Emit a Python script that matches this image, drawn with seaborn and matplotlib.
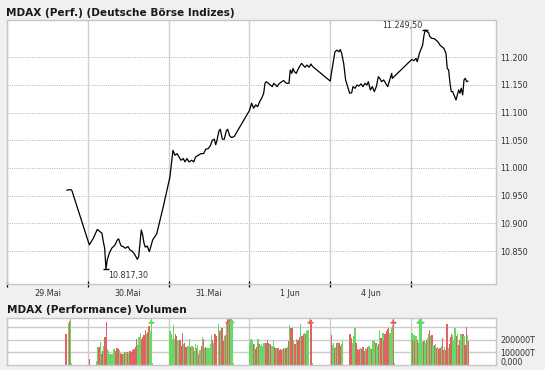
import matplotlib
matplotlib.use("Agg")
import matplotlib.pyplot as plt
import matplotlib.transforms as mtransforms
import seaborn as sns

sns.set_style("white")
plt.rcParams["font.family"] = ["DejaVu Sans"]

# ---------------- data ----------------
title_main = "MDAX (Perf.) (Deutsche Börse Indizes)"
title_vol = "MDAX (Performance) Volumen"
day_labels = ["29.Mai", "30.Mai", "31.Mai", "1 Jun", "4 Jun"]
price_ticks = [10850, 10900, 10950, 11000, 11050, 11100, 11150, 11200]
volume_ticks = [0, 100, 200]          # in 1000 T
volume_grid = [100, 200, 300]

# time in trading-day units (0 = 29.Mai, 1 = 30.Mai, ...)
line_time = [
    0.739, 0.788, 0.804,
    1.019, 1.068, 1.118, 1.151, 1.176, 1.192, 1.209, 1.225, 1.241, 1.266, 1.296, 1.337,
    1.365, 1.382, 1.399, 1.415, 1.439, 1.464, 1.498, 1.522, 1.556, 1.584, 1.613, 1.630,
    1.662, 1.679, 1.696, 1.712, 1.736, 1.761, 1.778, 1.803, 1.853, 1.934, 2.017,
    2.054, 2.079, 2.104, 2.129, 2.153, 2.182, 2.203, 2.228, 2.252, 2.286, 2.311, 2.335,
    2.368, 2.401, 2.434, 2.459, 2.491, 2.516, 2.541, 2.566, 2.583, 2.599, 2.624, 2.640,
    2.665, 2.689, 2.714, 2.731, 2.756, 2.781, 2.813,
    3.001, 3.028, 3.053, 3.078, 3.103, 3.127, 3.152, 3.177, 3.193, 3.209, 3.234, 3.259,
    3.283, 3.301, 3.325, 3.342, 3.366, 3.400, 3.425, 3.449, 3.465, 3.490, 3.506, 3.524,
    3.540, 3.556, 3.580, 3.598, 3.623, 3.647, 3.663, 3.688, 3.713, 3.738, 3.762, 3.778,
    4.001, 4.016, 4.035, 4.059, 4.084, 4.109, 4.125, 4.142, 4.167, 4.191, 4.216, 4.241,
    4.266, 4.282, 4.307, 4.332, 4.356, 4.381, 4.406, 4.431, 4.455, 4.472, 4.497, 4.521,
    4.546, 4.571, 4.596, 4.613, 4.637, 4.662, 4.687, 4.712, 4.736, 4.761, 4.769,
    5.009, 5.037, 5.062, 5.078, 5.103, 5.127, 5.144, 5.161, 5.177, 5.202, 5.219, 5.235,
    5.260, 5.285, 5.309, 5.334, 5.359, 5.384, 5.408, 5.433, 5.449, 5.466, 5.483, 5.499,
    5.516, 5.532, 5.557, 5.573, 5.590, 5.606, 5.622, 5.640, 5.656, 5.672, 5.689, 5.705,
]
mdax = [
    10960, 10961, 10959,
    10861, 10873, 10889, 10885, 10882, 10867, 10855, 10817.3, 10834, 10846, 10855, 10861,
    10870, 10872, 10864, 10859, 10858, 10855, 10858, 10852, 10849, 10843, 10835, 10840,
    10888, 10879, 10864, 10857, 10859, 10849, 10857, 10870, 10881, 10930, 10984,
    11032, 11023, 11026, 11020, 11014, 11017, 11011, 11017, 11011, 11014, 11011, 11020,
    11023, 11026, 11026, 11034, 11035, 11040, 11050, 11052, 11042, 11050, 11067, 11070,
    11052, 11052, 11067, 11070, 11058, 11055, 11057,
    11104, 11117, 11108, 11114, 11111, 11120, 11126, 11135, 11153, 11156, 11153, 11150,
    11147, 11153, 11150, 11147, 11152, 11156, 11158, 11154, 11153, 11153, 11177, 11171,
    11180, 11174, 11171, 11177, 11184, 11189, 11186, 11182, 11186, 11182, 11188, 11184,
    11157, 11172, 11189, 11210, 11213, 11210, 11214, 11207, 11189, 11159, 11147, 11135,
    11136, 11147, 11144, 11150, 11148, 11152, 11147, 11153, 11150, 11156, 11141, 11147,
    11138, 11147, 11165, 11162, 11156, 11159, 11153, 11147, 11159, 11171, 11162,
    11196, 11194, 11198, 11192, 11207, 11216, 11222, 11240, 11249.5, 11246, 11244, 11237,
    11234, 11234, 11231, 11228, 11222, 11219, 11216, 11207, 11180, 11177, 11153, 11138,
    11138, 11132, 11123, 11132, 11141, 11135, 11144, 11132, 11159, 11162, 11156, 11157,
]
high_label, low_label = "11.249,50", "10.817,30"

vol_time = [
    0.730, 0.759, 0.771, 0.784, 0.796,
    1.019, 1.110, 1.122, 1.139, 1.155, 1.167, 1.180, 1.196, 1.213, 1.229,
    1.242, 1.258, 1.275, 1.291, 1.308, 1.324, 1.341, 1.361, 1.378, 1.390,
    1.407, 1.423, 1.440, 1.456, 1.473, 1.489, 1.506, 1.522, 1.539, 1.555,
    1.572, 1.588, 1.601, 1.617, 1.634, 1.650, 1.667, 1.683, 1.696, 1.712,
    1.724, 1.741, 1.757, 1.770, 1.786, 1.799,
    2.017, 2.030, 2.042, 2.059, 2.071, 2.083, 2.100, 2.112, 2.125, 2.141,
    2.153, 2.170, 2.182, 2.199, 2.211, 2.224, 2.240, 2.257, 2.269, 2.281,
    2.294, 2.306, 2.323, 2.335, 2.347, 2.360, 2.376, 2.389, 2.405, 2.417,
    2.430, 2.446, 2.459, 2.475, 2.488, 2.504, 2.516, 2.529, 2.541, 2.558,
    2.574, 2.587, 2.616, 2.632, 2.649, 2.661, 2.677, 2.694, 2.706, 2.719,
    2.731, 2.744, 2.756, 2.772, 2.789, 2.801,
    3.007, 3.020, 3.032, 3.049, 3.061, 3.078, 3.090, 3.106, 3.119, 3.131,
    3.148, 3.160, 3.177, 3.189, 3.205, 3.222, 3.234, 3.251, 3.263, 3.280,
    3.296, 3.309, 3.325, 3.342, 3.354, 3.366, 3.383, 3.395, 3.412, 3.424,
    3.441, 3.453, 3.469, 3.482, 3.498, 3.515, 3.527, 3.544, 3.556, 3.568,
    3.585, 3.601, 3.618, 3.634, 3.651, 3.668, 3.680, 3.696, 3.709, 3.725,
    3.754, 3.771, 3.783,
    4.014, 4.026, 4.039, 4.051, 4.063, 4.080, 4.092, 4.109, 4.121, 4.138,
    4.150, 4.245, 4.262, 4.274, 4.290, 4.307, 4.319, 4.336, 4.348, 4.365,
    4.377, 4.394, 4.406, 4.418, 4.435, 4.451, 4.464, 4.480, 4.493, 4.509,
    4.522, 4.538, 4.550, 4.567, 4.579, 4.596, 4.608, 4.625, 4.637, 4.653,
    4.666, 4.678, 4.695, 4.707, 4.724, 4.740, 4.757, 4.769, 4.781, 4.794,
    5.012, 5.025, 5.037, 5.050, 5.062, 5.078, 5.091, 5.103, 5.115, 5.128,
    5.144, 5.161, 5.173, 5.190, 5.202, 5.214, 5.231, 5.243, 5.260, 5.272,
    5.289, 5.301, 5.318, 5.330, 5.347, 5.359, 5.376, 5.388, 5.404, 5.417,
    5.433, 5.446, 5.462, 5.475, 5.491, 5.503, 5.516, 5.532, 5.545, 5.561,
    5.573, 5.590, 5.602, 5.619, 5.631, 5.644, 5.656, 5.668, 5.685, 5.697,
    5.710,
]
# volume in 1000 T
vol_value = [
    246, 336, 355, 368, 16,
    43, 30, 138, 143, 184, 84, 111, 146, 224, 346,
    124, 111, 84, 89, 89, 124, 111, 130, 124, 115,
    95, 84, 89, 105, 105, 105, 95, 111, 105, 115,
    124, 138, 203, 157, 224, 252, 203, 224, 240, 279,
    246, 260, 314, 273, 420, 16,
    271, 244, 203, 317, 203, 244, 230, 195, 190, 195,
    154, 252, 163, 176, 141, 141, 149, 203, 141, 149,
    154, 141, 108, 168, 136, 157, 87, 114, 149, 222,
    203, 136, 141, 136, 130, 130, 163, 238, 195, 176,
    244, 230, 325, 271, 276, 298, 190, 230, 238, 347,
    420, 358, 420, 420, 358, 14,
    176, 203, 195, 163, 163, 122, 141, 203, 163, 149,
    163, 149, 176, 176, 176, 195, 176, 163, 163, 149,
    195, 141, 130, 136, 130, 114, 122, 114, 122, 136,
    122, 136, 141, 190, 317, 293, 298, 195, 168, 163,
    203, 195, 222, 325, 230, 244, 257, 249, 271, 276,
    420, 358, 14,
    238, 157, 176, 136, 141, 176, 182, 176, 149, 163,
    190, 244, 211, 176, 230, 298, 176, 122, 114, 122,
    136, 122, 141, 108, 136, 122, 141, 149, 136, 122,
    195, 190, 195, 176, 149, 168, 276, 217, 211, 257,
    190, 244, 271, 290, 298, 257, 298, 317, 420, 14,
    257, 195, 238, 190, 230, 195, 176, 420, 420, 420,
    184, 190, 176, 195, 217, 244, 276, 230, 238, 149,
    157, 168, 130, 141, 122, 136, 149, 211, 114, 141,
    114, 325, 136, 168, 222, 244, 238, 195, 293, 230,
    244, 157, 195, 249, 203, 244, 230, 157, 304, 238,
    190,
]
# g = rising interval, r = falling interval
vol_dir = list(
    "rgrgg"
    "rggrgrrgrr" "ggggggrrrg" "rrgrgrgrrr" "rrrgggrrrr" "grrggg"
    "gggggrrggr" "rrgrrrggrg" "grggrgrgrg" "rgrgggggrg" "rrgrgrrgrg" "rgrggg"
    "gggrgrrgrg" "ggggrrrgrg" "grrgrrrrgr" "grgrgrrgrr" "grrgrrgrgg" "rrg"
    "rggrgrgrrg" "grrgggrrrr" "grrrgrrggr" "gggrgrgrrg" "rrrrrgggrg"
    "grgrgrgggg" "grgrggrgrg" "rgrgrrgrrg" "rrgrrrgggr" "grrggrgrrg" "r"
)

# ---------------- figure ----------------
W, H = 545, 370
fig = plt.figure(figsize=(W / 100, H / 100), dpi=100, facecolor="#f0f0f0")


def px_box(l, t, r, b):
    return [l / W, 1 - b / H, (r - l) / W, (b - t) / H]


ax = fig.add_axes(px_box(6.5, 20, 495.5, 283.5))
axv = fig.add_axes(px_box(6.5, 317.5, 495.5, 364.5))

XMIN, XMAX = -0.006, 6.046
border = "#c6c6c6"
txt = "#333333"
fs = 5.8

# ---- main panel ----
ax.set_facecolor("white")
ax.set_xlim(XMIN, XMAX)
ax.set_ylim(10791.3, 11267.4)
for v in price_ticks:
    ax.axhline(v, color="#b4b4b4", lw=0.7, ls=(0, (1, 1.3)), zorder=0)
for d in range(6):
    ax.axvline(d, color="#d0d0d0", lw=1.0, zorder=0)

sns.lineplot(x=line_time, y=mdax, ax=ax, color="black", linewidth=0.9,
             estimator=None, sort=False, legend=False)

i_hi = mdax.index(max(mdax))
i_lo = mdax.index(min(mdax))
ax.plot([line_time[i_hi]], [mdax[i_hi]], marker="_", ms=5, mew=1.0, color="black")
ax.plot([line_time[i_lo]], [mdax[i_lo]], marker="_", ms=5, mew=1.0, color="black")
ax.annotate(high_label, xy=(line_time[i_hi], mdax[i_hi]), xytext=(-2, 0),
            textcoords="offset points", ha="right", va="bottom", fontsize=fs, color=txt)
ax.annotate(low_label, xy=(line_time[i_lo], mdax[i_lo]), xytext=(1.5, -1.5),
            textcoords="offset points", ha="left", va="top", fontsize=fs, color=txt)

ax.yaxis.tick_right()
ax.set_yticks(price_ticks)
ax.set_yticklabels([f"{v:,.0f}".replace(",", ".") for v in price_ticks])
ax.tick_params(axis="y", length=0, pad=3.5, labelsize=fs, labelcolor=txt)

ax.set_xticks(range(6))
ax.set_xticklabels([""] * 6)
ax.set_xticks([d + 0.5 for d in range(len(day_labels))], minor=True)
ax.set_xticklabels(day_labels, minor=True)
ax.tick_params(axis="x", which="major", direction="inout", length=4.5, width=0.9,
               color="black", bottom=True)
ax.tick_params(axis="x", which="minor", length=0, pad=4, labelsize=fs, labelcolor=txt)
ax.set_xlabel("")
ax.set_ylabel("")
for s in ax.spines.values():
    s.set_color(border)
    s.set_linewidth(1.0)

# ---- volume panel ----
VMAX = 381
axv.set_facecolor("white")
axv.set_xlim(XMIN, XMAX)
axv.set_ylim(0, VMAX)
for v in volume_grid:
    axv.axhline(v, color="#cccccc", lw=1.0, zorder=0)
for d in range(6):
    axv.axvline(d, color="#cccccc", lw=1.0, zorder=0)

col = {"g": "#66d966", "r": "#e06262"}
colors = [col[c] for c in vol_dir]
axv.bar(vol_time, vol_value, width=0.0142, color=colors, linewidth=0,
        antialiased=False, zorder=2)
for t, v, c in zip(vol_time, vol_value, colors):
    if v > VMAX:
        axv.plot([t], [VMAX * 0.935], marker="^", ms=3.6, color=c, mew=0,
                 clip_on=False, zorder=3)
        axv.plot([t], [VMAX * 0.90], marker="_", ms=4, mew=1.0, color=c,
                 clip_on=False, zorder=3)

axv.yaxis.tick_right()
shown = [v for v in volume_ticks if v > 0]
axv.set_yticks(shown)
axv.set_yticklabels([f"{v * 1000}T" for v in shown])
axv.tick_params(axis="y", length=0, pad=3.5, labelsize=fs, labelcolor=txt)
# zero label sits slightly above the panel floor, as in the source chart
zero_tr = axv.get_yaxis_transform() + mtransforms.ScaledTranslation(
    3.5 / 72, 2.5 / 100, fig.dpi_scale_trans)
axv.text(1.0, volume_ticks[0], "0,000", transform=zero_tr, ha="left", va="center",
         fontsize=fs, color=txt, clip_on=False)
axv.set_xticks([])
for s in axv.spines.values():
    s.set_color(border)
    s.set_linewidth(1.0)

fig.text(6 / W, 1 - 13 / H, title_main, fontsize=7.55, fontweight="bold",
         va="center", ha="left", color="#1a1a1a")
fig.text(7 / W, 1 - 310 / H, title_vol, fontsize=7.6, fontweight="bold",
         va="center", ha="left", color="#1a1a1a")

fig.savefig("out.png", dpi=100, facecolor=fig.get_facecolor())
